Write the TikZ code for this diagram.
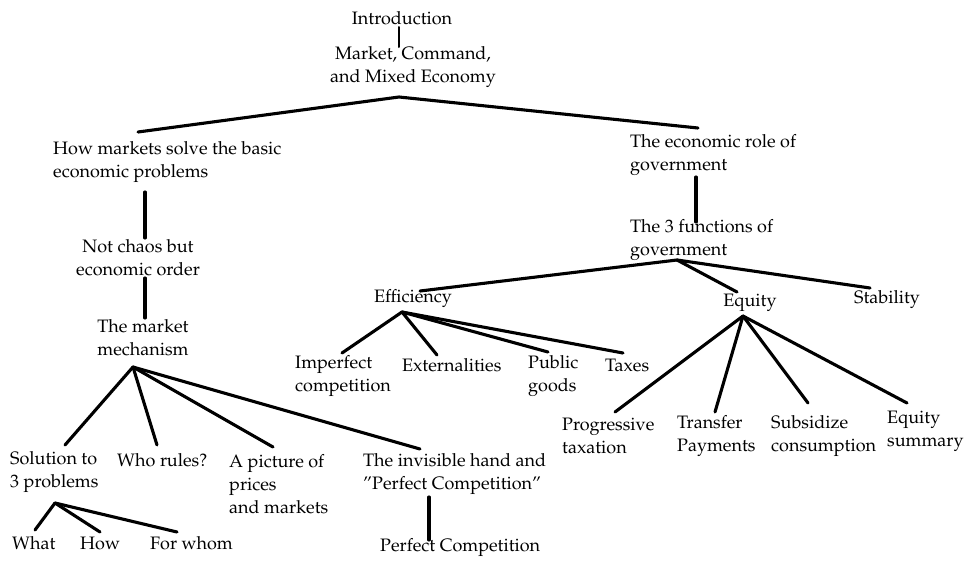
\documentclass[tikz,border=0pt]{standalone}
\usepackage[T1]{fontenc}
\usepackage{mathpazo}
\begin{document}
\begin{tikzpicture}[x=1pt,y=-1pt,
  lbl/.style={inner sep=0pt,font=\fontsize{18}{23}\selectfont},
  lblw/.style={lbl,anchor=west,align=left},
  lblc/.style={lbl,anchor=center,align=center},
  conn/.style={line width=3.1pt,line cap=round,line join=round}]
\useasboundingbox (0,0) rectangle (966,560);
\fill[white] (0,0) rectangle (966,560);
% nodes
\node[lblc] (intro) at (402,18) {Introduction};
\node[lblc] (mkt) at (413,67) {Market, Command,\\and Mixed Economy};
\node[lblw] (how) at (53,162) {How markets solve the basic\\economic problems};
\node[lblw] (role) at (630,155) {The economic role of\\government};
\node[lblc] (chaos) at (138,258) {Not chaos but\\economic order};
\node[lblc] (mech) at (143,338) {The market\\mechanism};
\node[lblw] (three) at (630,240) {The 3 functions of\\government};
\node[lblc] (eff) at (413,299) {Efficiency};
\node[lblc] (equ) at (750,303) {Equity};
\node[lblc] (stab) at (887,300) {Stability};
\node[lblw] (imp) at (295,376) {Imperfect\\competition};
\node[lblw] (ext) at (402,365) {Externalities};
\node[lblw] (pub) at (528,376) {Public\\goods};
\node[lblw] (tax) at (605,365) {Taxes};
\node[lblw] (prog) at (562,436) {Progressive\\taxation};
\node[lblw] (trans) at (677,436) {Transfer\\Payments};
\node[lblw] (subs) at (771,436) {Subsidize\\consumption};
\node[lblw] (eqs) at (887,431) {Equity\\summary};
\node[lblw] (sol) at (10,472) {Solution to\\3 problems};
\node[lblw] (who) at (117,460) {Who rules?};
\node[lblw] (pic) at (229,484) {A picture of\\prices\\and markets};
\node[lblw] (inv) at (363,474) {The invisible hand and\\''Perfect Competition''};
\node[lblw] (pc) at (380,548) {Perfect Competition};
\node[lblw] (what) at (12,543) {What};
\node[lblw] (howw) at (80,543) {How};
\node[lblw] (forw) at (150,543) {For whom};
% junction and end coordinates
\coordinate (introB) at (399,27);
\coordinate (mktT) at (399,47);
\coordinate (mktA) at (399,97);
\coordinate (howT) at (138,132);
\coordinate (roleT) at (698,128);
\coordinate (howB) at (145,192);
\coordinate (chaosT) at (145,238);
\coordinate (chaosB) at (145,278);
\coordinate (mechT) at (145,318);
\coordinate (mechA) at (133,367);
\coordinate (solT) at (65,445);
\coordinate (whoT) at (157,445);
\coordinate (picT) at (273,447);
\coordinate (invT) at (420,449);
\coordinate (solA) at (55,503);
\coordinate (whatT) at (35,530);
\coordinate (howwT) at (100,532);
\coordinate (forwT) at (177,532);
\coordinate (invB) at (429,497);
\coordinate (pcT) at (429,540);
\coordinate (roleB) at (696,177);
\coordinate (threeT) at (696,222);
\coordinate (threeA) at (677,260);
\coordinate (effT) at (420,291);
\coordinate (equT) at (737,292);
\coordinate (stabT) at (870,288);
\coordinate (effA) at (402,312);
\coordinate (impT) at (342,353);
\coordinate (extT) at (437,355);
\coordinate (pubT) at (548,352);
\coordinate (taxT) at (623,353);
\coordinate (equA) at (743,316);
\coordinate (progT) at (615,412);
\coordinate (transT) at (715,412);
\coordinate (subsT) at (808,403);
\coordinate (eqsT) at (907,403);
% connectors
\draw[conn,line width=2pt] (introB) -- (mktT);
\draw[conn] (howT) -- (mktA) -- (roleT);
\draw[conn] (howB) -- (chaosT);
\draw[conn] (chaosB) -- (mechT);
\draw[conn] (mechA) -- (solT);
\draw[conn] (mechA) -- (whoT);
\draw[conn] (mechA) -- (picT);
\draw[conn] (mechA) -- (invT);
\draw[conn] (solA) -- (whatT);
\draw[conn] (solA) -- (howwT);
\draw[conn] (solA) -- (forwT);
\draw[conn] (invB) -- (pcT);
\draw[conn] (roleB) -- (threeT);
\draw[conn] (threeA) -- (effT);
\draw[conn] (threeA) -- (equT);
\draw[conn] (threeA) -- (stabT);
\draw[conn] (effA) -- (impT);
\draw[conn] (effA) -- (extT);
\draw[conn] (effA) -- (pubT);
\draw[conn] (effA) -- (taxT);
\draw[conn] (equA) -- (progT);
\draw[conn] (equA) -- (transT);
\draw[conn] (equA) -- (subsT);
\draw[conn] (equA) -- (eqsT);
\end{tikzpicture}
\end{document}
